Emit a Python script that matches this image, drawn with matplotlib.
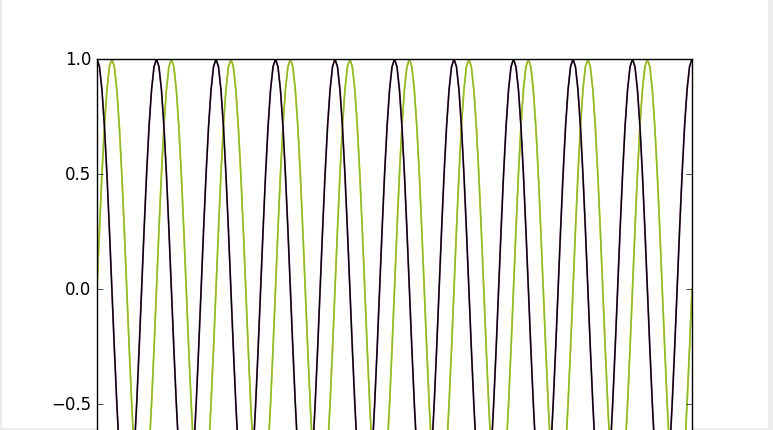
import numpy as np
import matplotlib
matplotlib.use('Agg')
import matplotlib.pyplot as plt
from matplotlib.patches import Rectangle

plt.style.use('classic')

cos_period = [1.000, 0.966, 0.866, 0.707, 0.500, 0.259, 0.000, -0.259,
              -0.500, -0.707, -0.866, -0.966, -1.000, -0.966, -0.866, -0.707,
              -0.500, -0.259, 0.000, 0.259, 0.500, 0.707, 0.866, 0.966]
sin_period = [0.000, 0.259, 0.500, 0.707, 0.866, 0.966, 1.000, 0.966,
              0.866, 0.707, 0.500, 0.259, 0.000, -0.259, -0.500, -0.707,
              -0.866, -0.966, -1.000, -0.966, -0.866, -0.707, -0.500, -0.259]
n_periods = 10
yticks = [-1.0, -0.5, 0.0, 0.5, 1.0]

cos_vals = np.append(np.tile(cos_period, n_periods), cos_period[0])
sin_vals = np.append(np.tile(sin_period, n_periods), sin_period[0])
xs = np.arange(len(cos_vals))

W, H = 773, 431
fig = plt.figure(figsize=(W / 100.0, H / 100.0), dpi=100)
fig.patch.set_facecolor('#ececec')
fig.add_artist(Rectangle((2.0 / W, 2.0 / H), 766.0 / W, 428.0 / H,
                         transform=fig.transFigure, facecolor='white',
                         edgecolor='none', zorder=-1))

# axes runs past the bottom edge, the picture is cut there
ax = fig.add_axes([97.0 / W, (H - 520.0) / H, 595.0 / W, 460.0 / H])

ax.plot(xs, sin_vals, color='#ccd600', lw=1.3)
ax.plot(xs, sin_vals, color='#8ab63e', lw=1.0)
ax.plot(xs, cos_vals, color='#a455a4', lw=1.3)
ax.plot(xs, cos_vals, color='black', lw=1.0)

ax.set_xlim(0, xs[-1])
ax.set_ylim(-1, 1)
ax.set_yticks(yticks)
ax.tick_params(axis='x', top=False)
plt.setp(ax.get_yticklabels(), fontsize=12)

fig.savefig('out.png', dpi=100, facecolor=fig.get_facecolor())
